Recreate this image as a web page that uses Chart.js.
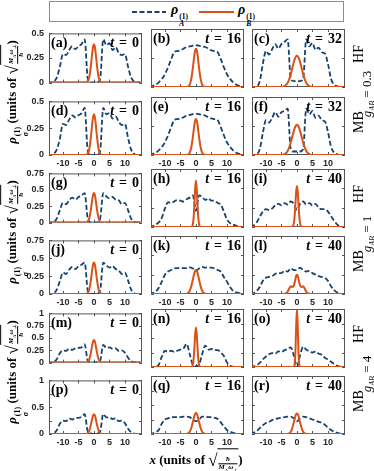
<!DOCTYPE html>
<html>
<head>
<meta charset="utf-8">
<script src="https://cdn.jsdelivr.net/npm/chart.js@4.4.1/dist/chart.umd.min.js"></script>
<style>
  body { margin: 0; background: #fff; }
  #fig { position: relative; width: 374px; height: 471px; overflow: hidden; font-family: "Liberation Serif", serif; color: #000; }
  #fig canvas { position: absolute; }
  .rot { position: absolute; transform: translate(-50%, -50%) rotate(-90deg); white-space: nowrap; }
  .ctr { position: absolute; transform: translate(-50%, -50%); white-space: nowrap; }
  .ttl { font: bold 13px "Liberation Serif", serif; line-height: 16px; }
  .st { display: inline-flex; flex-direction: column; vertical-align: -4px; font-size: 8px; line-height: 8px; margin-left: 1px; font-style: normal; }
  .leg { position: absolute; top: 3px; font: bold 14px "Liberation Serif", serif; line-height: 14px; }
  .leg .st { vertical-align: -5px; font-size: 7.5px; line-height: 7px; }
  .sq { font-size: 17px; font-weight: normal; vertical-align: -2px; }
  .rad { display: inline-block; border-top: 1px solid #000; vertical-align: middle; padding: 0 1px; }
  .fr { display: inline-flex; flex-direction: column; text-align: center; font-size: 7px; line-height: 7px; font-style: italic; }
  .fr .n { border-bottom: 1px solid #000; }
  .fr sub { font-size: 5px; }
  .side { font: 14px "Liberation Serif", serif; }
  .gab { font: 13px "Liberation Serif", serif; }
  .gab sub { font-size: 8px; font-style: italic; }
</style>
</head>
<body>
<div id="fig">
  <div style="position:absolute;left:49px;top:1px;width:293px;height:19px;border:1px solid #8c8c8c;"></div>
  <svg style="position:absolute;left:130px;top:8px" width="38" height="8"><line x1="2" y1="4" x2="36" y2="4" stroke="#17426e" stroke-width="2" stroke-dasharray="5 2.5"/></svg>
  <div class="leg" style="left:171px"><i>ρ</i><span class="st"><span>(1)</span><i>A</i></span></div>
  <svg style="position:absolute;left:197px;top:8px" width="40" height="8"><line x1="2" y1="4" x2="37" y2="4" stroke="#D95319" stroke-width="2"/></svg>
  <div class="leg" style="left:238px"><i>ρ</i><span class="st"><span>(1)</span><i>B</i></span></div>
</div>
<script>
// x grids (units of sqrt(hbar / M_A w))
const xA = [-15,-14,-13,-12,-11,-10,-9,-8,-7,-6,-5,-4,-3,-2,-1,0,1,2,3,4,5,6,7,8,9,10,11,12,13,14,15];
const xB = [-15,-6,-5,-4,-3.5,-3,-2.5,-2,-1.5,-1,-0.75,-0.5,-0.25,0,0.25,0.5,0.75,1,1.5,2,2.5,3,3.5,4,5,6,15];

// rho_A (dashed blue), one array per panel
const ba = [0,0,0.01,0.05,0.16,0.29,0.28,0.33,0.37,0.34,0.37,0.39,0.44,0.04,0,0,0,0.04,0.44,0.38,0.40,0.33,0.36,0.30,0.28,0.29,0.16,0.05,0.01,0,0];
const bb = [0.005,0.01,0.02,0.04,0.07,0.11,0.17,0.24,0.30,0.31,0.315,0.33,0.345,0.35,0.357,0.36,0.357,0.35,0.345,0.33,0.315,0.31,0.30,0.24,0.17,0.11,0.07,0.04,0.02,0.01,0.005];
const bc = [0,0,0.005,0.05,0.20,0.31,0.28,0.325,0.37,0.33,0.37,0.39,0.41,0.07,0.05,0.05,0.05,0.07,0.41,0.35,0.38,0.32,0.34,0.30,0.29,0.20,0.07,0.02,0.005,0,0];
const bd = [0,0,0.01,0.05,0.15,0.29,0.28,0.33,0.37,0.35,0.37,0.39,0.44,0.04,0,0,0,0.04,0.44,0.38,0.39,0.34,0.36,0.31,0.28,0.29,0.16,0.05,0.01,0,0];
const be = [0.005,0.01,0.02,0.04,0.07,0.11,0.17,0.24,0.30,0.31,0.315,0.325,0.34,0.345,0.352,0.355,0.352,0.345,0.34,0.325,0.315,0.31,0.30,0.24,0.17,0.11,0.07,0.04,0.02,0.01,0.005];
const bf = [0,0,0.005,0.05,0.19,0.30,0.28,0.32,0.37,0.33,0.37,0.38,0.40,0.05,0.03,0.03,0.03,0.05,0.40,0.35,0.38,0.32,0.34,0.30,0.29,0.20,0.07,0.02,0.005,0,0];
const bg = [0,0,0.01,0.06,0.19,0.30,0.28,0.34,0.38,0.35,0.39,0.41,0.45,0.06,0,0,0,0.06,0.45,0.40,0.37,0.39,0.35,0.34,0.28,0.30,0.19,0.06,0.01,0,0];
const bh = [0.005,0.01,0.03,0.06,0.12,0.24,0.32,0.31,0.33,0.35,0.34,0.33,0.36,0.38,0.41,0.21,0.41,0.39,0.35,0.37,0.34,0.34,0.31,0.29,0.2,0.1,0.05,0.03,0.015,0.005,0];
const bi = [0,0.02,0.06,0.13,0.2,0.23,0.22,0.24,0.28,0.30,0.28,0.31,0.29,0.33,0.30,0.22,0.30,0.33,0.29,0.31,0.28,0.30,0.25,0.23,0.23,0.2,0.14,0.08,0.03,0.01,0];
const bj = [0,0,0.01,0.06,0.18,0.30,0.28,0.34,0.38,0.35,0.39,0.41,0.44,0.05,0,0,0,0.05,0.44,0.40,0.37,0.39,0.35,0.33,0.28,0.30,0.19,0.06,0.01,0,0];
const bk = [0.005,0.01,0.03,0.08,0.16,0.25,0.29,0.31,0.33,0.335,0.335,0.335,0.335,0.345,0.33,0.30,0.33,0.35,0.34,0.34,0.34,0.33,0.31,0.29,0.22,0.16,0.09,0.04,0.02,0.01,0.005];
const bl = [0,0.01,0.04,0.09,0.17,0.21,0.22,0.23,0.26,0.27,0.27,0.30,0.29,0.33,0.31,0.31,0.34,0.31,0.29,0.30,0.27,0.25,0.23,0.22,0.21,0.17,0.1,0.05,0.02,0.005,0];
const bm = [0,0,0.01,0.07,0.19,0.25,0.24,0.28,0.26,0.29,0.30,0.31,0.37,0.04,0.01,0,0.01,0.04,0.36,0.30,0.31,0.28,0.29,0.24,0.25,0.2,0.1,0.03,0.005,0,0];
const bn = [0,0,0.01,0.04,0.18,0.28,0.26,0.28,0.26,0.28,0.30,0.32,0.40,0.22,0.04,0.01,0.04,0.22,0.37,0.30,0.31,0.29,0.29,0.25,0.19,0.08,0.02,0.005,0,0,0];
const bo = [0,0.01,0.03,0.07,0.13,0.18,0.22,0.24,0.23,0.27,0.26,0.29,0.31,0.34,0.2,0.01,0.2,0.35,0.30,0.27,0.25,0.27,0.23,0.21,0.16,0.13,0.09,0.05,0.02,0.005,0];
const bp = [0,0,0.01,0.07,0.19,0.25,0.24,0.29,0.27,0.30,0.30,0.32,0.37,0.05,0.01,0,0.01,0.05,0.37,0.31,0.31,0.28,0.29,0.24,0.25,0.2,0.1,0.03,0.005,0,0];
const bq = [0,0.01,0.03,0.07,0.18,0.25,0.27,0.29,0.29,0.29,0.29,0.30,0.30,0.29,0.25,0.22,0.25,0.30,0.30,0.29,0.29,0.28,0.26,0.2,0.13,0.07,0.04,0.02,0.01,0,0];
const br = [0,0.02,0.05,0.1,0.15,0.19,0.21,0.24,0.26,0.27,0.28,0.29,0.30,0.30,0.27,0.22,0.27,0.30,0.29,0.27,0.25,0.23,0.21,0.19,0.16,0.11,0.07,0.04,0.02,0.005,0];

// rho_B (solid orange), one array per panel
const oa = [0,0,0,0,0,0,0.002,0.013,0.058,0.168,0.243,0.316,0.37,0.39,0.37,0.316,0.243,0.168,0.058,0.013,0.002,0,0,0,0,0,0];
const ob = [0,0,0,0,0,0.001,0.004,0.021,0.07,0.165,0.224,0.278,0.316,0.33,0.316,0.278,0.224,0.165,0.07,0.021,0.004,0.001,0,0,0,0,0];
const oc = [0,0,0.001,0.008,0.018,0.036,0.067,0.111,0.164,0.216,0.238,0.255,0.266,0.27,0.266,0.255,0.238,0.216,0.164,0.111,0.067,0.036,0.018,0.008,0.001,0,0];
const od = [0,0,0,0,0,0,0.002,0.013,0.056,0.164,0.237,0.308,0.36,0.38,0.36,0.308,0.237,0.164,0.056,0.013,0.002,0,0,0,0,0,0];
const oe = [0,0,0,0,0,0.001,0.004,0.02,0.066,0.155,0.21,0.261,0.297,0.31,0.297,0.261,0.21,0.155,0.066,0.02,0.004,0.001,0,0,0,0,0];
const of = [0,0,0.001,0.008,0.017,0.035,0.065,0.107,0.158,0.208,0.229,0.246,0.256,0.26,0.256,0.246,0.229,0.208,0.158,0.107,0.065,0.035,0.017,0.008,0.001,0,0];
const og = [0,0,0,0,0,0,0.002,0.015,0.067,0.194,0.28,0.365,0.427,0.45,0.427,0.365,0.28,0.194,0.067,0.015,0.002,0,0,0,0,0,0];
const oh = [0,0,0,0,0,0,0,0,0.001,0.035,0.122,0.296,0.50,0.60,0.50,0.296,0.122,0.035,0.001,0,0,0,0,0,0,0,0];
const oi = [0,0,0,0,0,0,0,0,0.003,0.05,0.14,0.293,0.457,0.53,0.457,0.293,0.14,0.05,0.003,0,0,0,0,0,0,0,0];
const oj = [0,0,0,0,0,0,0.002,0.015,0.065,0.19,0.274,0.357,0.418,0.44,0.418,0.357,0.274,0.19,0.065,0.015,0.002,0,0,0,0,0,0];
const ok = [0,0,0,0,0,0.003,0.014,0.042,0.101,0.188,0.234,0.273,0.30,0.31,0.30,0.273,0.234,0.188,0.101,0.042,0.014,0.003,0,0,0,0,0];
const ol = [0,0,0,0.002,0.01,0.03,0.07,0.10,0.09,0.11,0.15,0.19,0.235,0.25,0.235,0.19,0.15,0.11,0.09,0.10,0.07,0.03,0.01,0.002,0,0,0];
const om = [0,0,0,0,0,0,0.002,0.015,0.068,0.198,0.286,0.373,0.436,0.46,0.436,0.373,0.286,0.198,0.068,0.015,0.002,0,0,0,0,0,0];
const on = [0,0,0,0,0,0,0,0,0.001,0.04,0.138,0.335,0.57,0.68,0.57,0.335,0.138,0.04,0.001,0,0,0,0,0,0,0,0];
const oo = [0,0,0,0,0,0,0,0,0,0.004,0.044,0.249,0.707,1.0,0.707,0.249,0.044,0.004,0,0,0,0,0,0,0,0,0];
const op = [0,0,0,0,0,0,0.003,0.016,0.064,0.17,0.238,0.305,0.352,0.37,0.352,0.305,0.238,0.17,0.064,0.016,0.003,0,0,0,0,0,0];
const oq = [0,0,0,0,0,0.002,0.011,0.039,0.104,0.207,0.263,0.314,0.348,0.36,0.348,0.314,0.263,0.207,0.104,0.039,0.011,0.002,0,0,0,0,0];
const or = [0,0,0,0,0,0.002,0.011,0.038,0.103,0.204,0.259,0.31,0.343,0.355,0.343,0.31,0.259,0.204,0.103,0.038,0.011,0.002,0,0,0,0,0];

const blues = [ba,bb,bc,bd,be,bf,bg,bh,bi,bj,bk,bl,bm,bn,bo,bp,bq,br];
const oranges = [oa,ob,oc,od,oe,of,og,oh,oi,oj,ok,ol,om,on,oo,op,oq,or];
const tags = ['a','b','c','d','e','f','g','h','i','j','k','l','m','n','o','p','q','r'];
const times = [0,16,32, 0,16,32, 0,16,40, 0,16,40, 0,16,40, 0,16,40];

const xTicks = [-10,-5,0,5,10];
const yMaxes = [0.5, 0.75, 1];
const yTickSets = [[0,0.25,0.5],[0,0.25,0.5,0.75],[0,0.25,0.5,0.75,1]];
const gValues = ['0.3', '1', '4'];
const methods = ['HF', 'MB'];

// layout
const colLeft = [49, 151, 252];
const rowTop = [29, 97, 169, 236, 309, 376];
const PW = 93, PH = 58, PAD = 6, YAXW = 33, XAXH = 14;
const BLUE = '#17426e', ORANGE = '#D95319', FRAME = '#555';
const tickFont = { family: '"Liberation Sans", Arial, sans-serif', size: 9, weight: 'bold' };

const fig = document.getElementById('fig');

const panelDeco = {
  id: 'panelDeco',
  beforeDatasetsDraw(chart, args, o) {
    const { ctx, chartArea: a } = chart;
    const xs = chart.scales.x, ys = chart.scales.y;
    ctx.save();
    ctx.strokeStyle = FRAME;
    ctx.lineWidth = 1;
    ctx.strokeRect(a.left + 0.5, a.top + 0.5, a.width - 1, a.height - 1);
    ctx.beginPath();
    xTicks.forEach(v => {
      const px = Math.round(xs.getPixelForValue(v)) + 0.5;
      ctx.moveTo(px, a.bottom); ctx.lineTo(px, a.bottom - 3);
      ctx.moveTo(px, a.top); ctx.lineTo(px, a.top + 3);
    });
    o.yTicks.forEach(v => {
      const py = Math.round(ys.getPixelForValue(v)) + 0.5;
      ctx.moveTo(a.left, py); ctx.lineTo(a.left + 3, py);
      ctx.moveTo(a.right, py); ctx.lineTo(a.right - 3, py);
    });
    ctx.stroke();
    ctx.restore();
  },
  afterDatasetsDraw(chart, args, o) {
    const { ctx, chartArea: a } = chart;
    ctx.save();
    ctx.fillStyle = '#000';
    ctx.textBaseline = 'alphabetic';
    const base = a.top + 14;
    ctx.font = 'bold 14px "Liberation Serif", serif';
    ctx.fillText('(' + o.tag + ')', a.left + 2, base);
    // "t = N" right aligned
    const num = String(o.time);
    let x = a.right - 3 - ctx.measureText(num).width;
    ctx.fillText(num, x, base);
    x -= 5 + ctx.measureText('=').width;
    ctx.fillText('=', x, base);
    ctx.font = 'italic bold 14px "Liberation Serif", serif';
    x -= 5 + ctx.measureText('t').width;
    ctx.fillText('t', x, base);
    ctx.restore();
  }
};

function makePanel(i) {
  const col = i % 3, row = Math.floor(i / 3), pair = Math.floor(row / 2);
  const showY = col === 0, showX = row % 2 === 1;
  const padL = PAD + (showY ? YAXW : 0);
  const w = padL + PW + PAD;
  const h = PAD + PH + PAD + (showX ? XAXH : 0);
  const cv = document.createElement('canvas');
  cv.width = w; cv.height = h;
  cv.style.left = (colLeft[col] - padL) + 'px';
  cv.style.top = (rowTop[row] - PAD) + 'px';
  cv.style.width = w + 'px'; cv.style.height = h + 'px';
  fig.appendChild(cv);

  new Chart(cv, {
    type: 'line',
    data: {
      datasets: [
        {
          data: xB.map((x, k) => ({ x, y: oranges[i][k] })),
          borderColor: ORANGE, borderWidth: 2, pointRadius: 0,
          cubicInterpolationMode: 'monotone', order: 0
        },
        {
          data: xA.map((x, k) => ({ x, y: blues[i][k] })),
          borderColor: BLUE, borderWidth: 1.8, borderDash: [5, 2.5], pointRadius: 0,
          cubicInterpolationMode: 'monotone', order: 1
        }
      ]
    },
    options: {
      responsive: false,
      animation: false,
      devicePixelRatio: 1,
      layout: { padding: { left: PAD, right: PAD, top: PAD, bottom: PAD } },
      plugins: {
        legend: { display: false },
        tooltip: { enabled: false },
        panelDeco: { tag: tags[i], time: times[i], yTicks: yTickSets[pair] }
      },
      scales: {
        x: {
          type: 'linear', min: -14.5, max: 15.5,
          display: showX,
          grid: { display: false, drawTicks: false },
          border: { display: false },
          afterBuildTicks: s => { s.ticks = xTicks.map(v => ({ value: v })); },
          afterFit: s => { if (showX) s.height = XAXH; },
          ticks: { font: tickFont, color: '#262626', padding: 3, maxRotation: 0, autoSkip: false }
        },
        y: {
          min: 0, max: yMaxes[pair],
          display: showY,
          grid: { display: false, drawTicks: false },
          border: { display: false },
          afterBuildTicks: s => { s.ticks = yTickSets[pair].map(v => ({ value: v })); },
          afterFit: s => { if (showY) s.width = YAXW; },
          ticks: { font: tickFont, color: '#262626', padding: 5, callback: v => String(v) }
        }
      }
    },
    plugins: [panelDeco]
  });
}

for (let i = 0; i < 18; i++) makePanel(i);

// side labels and axis titles
function addDiv(cls, html, left, top) {
  const d = document.createElement('div');
  d.className = cls;
  d.style.left = left + 'px';
  d.style.top = top + 'px';
  d.innerHTML = html;
  fig.appendChild(d);
}
const unitsY = '<span class="rad"><span class="fr"><span class="n">M<sub>A</sub>ω<sub>⊥</sub></span><span>ħ</span></span></span>';
for (let p = 0; p < 3; p++) {
  const yc = (rowTop[2 * p] + rowTop[2 * p + 1] + PH) / 2;
  addDiv('rot ttl', '<i>ρ</i><span class="st"><span>(1)</span><i>σ</i></span>&nbsp;(units of <span class="sq">√</span>' + unitsY + ')', 15, yc);
  addDiv('rot gab', '<i>g</i><sub>AB</sub> = ' + gValues[p], 368, yc + 2);
  for (let m = 0; m < 2; m++) {
    addDiv('rot side', methods[m], 359, rowTop[2 * p + m] + PH / 2 - 4);
  }
}
const unitsX = '<span class="rad"><span class="fr"><span class="n">ħ</span><span>M<sub>A</sub>ω<sub>⊥</sub></span></span></span>';
addDiv('ctr ttl', '<i>x</i>&nbsp;(units of <span class="sq">√</span>' + unitsX + ')', 196, 461);
</script>
</body>
</html>
